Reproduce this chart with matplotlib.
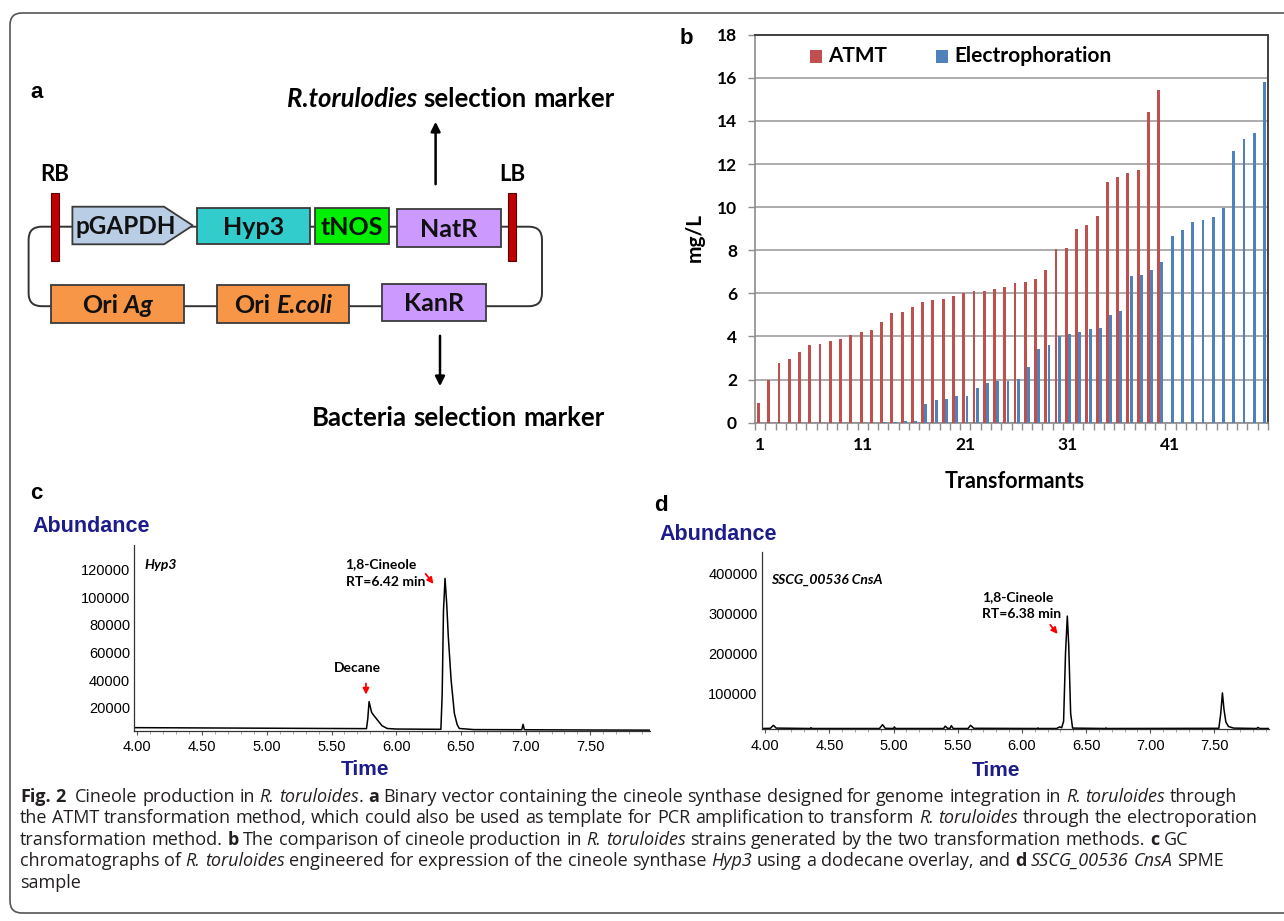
import numpy as np
import matplotlib.pyplot as plt
from matplotlib import font_manager
from matplotlib.patches import Rectangle, Polygon, FancyBboxPatch

W, H = 1284, 921
OUT = "out.png"

# ---- panel b: cineole titre per transformant (mg/L) ----
ATMT = [0.9, 2.0, 2.75, 2.95, 3.3, 3.6, 3.65, 3.8, 3.9, 4.05,
        4.2, 4.3, 4.65, 5.1, 5.15, 5.35, 5.6, 5.7, 5.75, 5.9,
        6.0, 6.1, 6.1, 6.2, 6.3, 6.5, 6.55, 6.65, 7.1, 8.05,
        8.1, 9.0, 9.15, 9.6, 11.15, 11.4, 11.6, 11.7, 14.4, 15.45]
ELEC = [0, 0, 0, 0, 0, 0, 0, 0, 0, 0,
        0, 0, 0.05, 0.05, 0.1, 0.1, 0.85, 1.05, 1.1, 1.25,
        1.25, 1.6, 1.85, 1.95, 1.95, 2.05, 2.6, 3.4, 3.6, 4.0,
        4.1, 4.2, 4.35, 4.4, 5.0, 5.2, 6.8, 6.85, 7.1, 7.45,
        8.65, 8.95, 9.3, 9.4, 9.55, 9.95, 12.6, 13.15, 13.45, 15.8]
B_XTICKS = [1, 11, 21, 31, 41]
B_YTICKS = [0, 2, 4, 6, 8, 10, 12, 14, 16, 18]
SERIES = ["ATMT", "Electrophoration"]

# ---- panel c: Hyp3 chromatogram (time in min, abundance) ----
C_TIME = [3.975, 4.5, 5.0, 5.5, 5.77, 5.78, 5.79, 5.81, 5.83, 5.86, 5.89, 5.93,
          6.0, 6.345, 6.355, 6.365, 6.377, 6.39, 6.402, 6.424, 6.449, 6.47, 6.487,
          6.6, 6.97, 6.98, 6.99, 7.5, 7.964]
C_ABUND = [5600, 5400, 5200, 5000, 4900, 12000, 24400, 16500, 14000, 10500, 7000, 5000,
           4600, 4400, 30000, 90000, 113500, 95000, 71800, 40000, 16000, 8000, 5000,
           4200, 4100, 8000, 4100, 3900, 3800]

# ---- panel d: SSCG_00536 CnsA chromatogram ----
D_TIME = [3.972, 4.04, 4.063, 4.085, 4.35, 4.356, 4.365, 4.89, 4.914, 4.935,
          5.0, 5.006, 5.015, 5.39, 5.403, 5.42, 5.44, 5.45, 5.465, 5.58, 5.60, 5.625,
          6.12, 6.125, 6.13, 6.27, 6.294, 6.31, 6.325, 6.34, 6.354, 6.365, 6.38, 6.395,
          6.65, 6.655, 6.66, 7.535, 7.55, 7.563, 7.575, 7.59, 7.61, 7.65,
          7.83, 7.84, 7.855, 7.926]
D_ABUND = [12000, 12500, 20000, 13000, 12000, 14000, 12000, 12000, 21500, 12500,
           12000, 16000, 12000, 12000, 18000, 12500, 12500, 19000, 12000, 12000, 20000, 12500,
           12000, 13500, 12000, 12000, 16000, 14000, 30000, 200000, 293000, 220000, 50000, 13000,
           12000, 13500, 12000, 12500, 50000, 101000, 60000, 28000, 17000, 13000,
           12000, 14500, 12000, 12000]
TIME_TICKS = [4.0, 4.5, 5.0, 5.5, 6.0, 6.5, 7.0, 7.5]
C_YTICKS = [20000, 40000, 60000, 80000, 100000, 120000]
D_YTICKS = [100000, 200000, 300000, 400000]

# ---- caption ----
CAPTION = [
    [("Fig. 2", "b"), ("  Cineole production in ", "r"), ("R. toruloides", "i"), (". ", "r"), ("a", "b"),
     (" Binary vector containing the cineole synthase designed for genome integration in ", "r"),
     ("R. toruloides", "i"), (" through", "r")],
    [("the ATMT transformation method, which could also be used as template for PCR amplification to transform ", "r"),
     ("R. toruloides", "i"), (" through the electroporation", "r")],
    [("transformation method. ", "r"), ("b", "b"), (" The comparison of cineole production in ", "r"),
     ("R. toruloides", "i"), (" strains generated by the two transformation methods. ", "r"), ("c", "b"), (" GC", "r")],
    [("chromatographs of ", "r"), ("R. toruloides", "i"), (" engineered for expression of the cineole synthase ", "r"),
     ("Hyp3", "i"), (" using a dodecane overlay, and ", "r"), ("d", "b"), (" ", "r"),
     ("SSCG_00536 CnsA", "i"), (" SPME", "r")],
    [("sample", "r")],
]

installed = {f.name for f in font_manager.fontManager.ttflist}


def pick(*names):
    for n in names:
        if n in installed:
            return n
    return "DejaVu Sans"


ARIAL = pick("Liberation Sans", "Arial")
LABEL = pick("Lato", "Noto Sans", "Liberation Sans")
CAPF = pick("Open Sans", "Noto Sans", "Liberation Sans")
NAVY = "#1C1C8A"

fig = plt.figure(figsize=(W / 100, H / 100), dpi=100)
renderer = fig.canvas.get_renderer()

ax0 = fig.add_axes([0, 0, 1, 1])
ax0.set_xlim(0, W)
ax0.set_ylim(H, 0)
ax0.axis("off")
ax0.set_zorder(5)


def px_axes(left, top, right, bottom):
    ax = fig.add_axes([left / W, 1 - bottom / H, (right - left) / W, (bottom - top) / H])
    ax.set_facecolor("none")
    return ax


STYLES = {"r": ("normal", "normal"), "b": ("bold", "normal"),
          "i": ("normal", "italic"), "bi": ("bold", "italic")}


def text_width(s, size, family, weight, style):
    t = ax0.text(0, 0, s, fontsize=size, family=family, fontweight=weight, fontstyle=style)
    w = t.get_window_extent(renderer).width
    t.remove()
    return w


def split_words(segs):
    # a double space becomes an empty word, i.e. a wider gap
    words = [[]]
    for text, st in segs:
        for i, p in enumerate(text.split(" ")):
            if i > 0:
                words.append([])
            if p:
                words[-1].append((p, st))
    if words and not words[0]:
        words = words[1:]
    return words


def space(size, family):
    return text_width("a a", size, family, "normal", "normal") - text_width("aa", size, family, "normal", "normal")


def line_width(segs, size, family, bold_base=False):
    words = split_words(segs)
    total = 0
    for w in words:
        for p, st in w:
            wt, sl = STYLES[st]
            total += text_width(p, size, family, "bold" if bold_base else wt, sl)
    return total + space(size, family) * (len(words) - 1)


def draw_words(x, y, segs, size, family, ha="left", color="black", bold_base=False):
    # y is the visual middle of capital letters; text sits on a common baseline
    base = y + 0.36 * size * 100 / 72
    words = split_words(segs)
    sp = space(size, family)
    start = x
    if ha == "center":
        start = x - line_width(segs, size, family, bold_base) / 2
    for w in words:
        for p, st in w:
            wt, sl = STYLES[st]
            t = ax0.text(start, base, p, fontsize=size, family=family, fontweight="bold" if bold_base else wt,
                         fontstyle=sl, color=color, va="baseline", ha="left")
            start += t.get_window_extent(renderer).width
        start += sp


# outer frame
ax0.add_patch(FancyBboxPatch((10, 13), W + 20, 900, boxstyle="round,pad=0,rounding_size=12",
                             fc="none", ec="#555555", lw=1.2))

# ---------------- panel a ----------------
ax0.text(37, 92, "a", fontsize=16, fontweight="bold", family=ARIAL, ha="center", va="center")
ax0.add_patch(FancyBboxPatch((28.6, 226.7), 513.4, 79.5, boxstyle="round,pad=0,rounding_size=13",
                             fc="none", ec="#333333", lw=1.4, zorder=1))
edge = "#3a3a3a"
ax0.add_patch(Polygon([(72.4, 206.7), (164, 206.7), (192.8, 225.5), (164, 244.3), (72.4, 244.3)],
                      closed=True, fc="#B9CDE5", ec=edge, lw=1.3, zorder=2))
boxes = [
    (196.5, 208.3, 310, 244.3, "#33CCCC", [("Hyp3", "r")]),
    (315, 208.3, 388.5, 244.3, "#00F000", [("tNOS", "r")]),
    (397, 209, 501, 246.7, "#CC99FF", [("NatR", "r")]),
    (51.3, 285, 184, 322.7, "#F79646", [("Ori ", "r"), ("Ag", "i")]),
    (216.7, 285, 349.3, 322.7, "#F79646", [("Ori ", "r"), ("E.coli", "i")]),
    (382, 283.7, 486, 320.7, "#CC99FF", [("KanR", "r")]),
]
for x0, y0, x1, y1, col, lab in boxes:
    ax0.add_patch(Rectangle((x0, y0), x1 - x0, y1 - y0, fc=col, ec=edge, lw=1.3, zorder=2))
    draw_words((x0 + x1) / 2, (y0 + y1) / 2, lab, 18, LABEL, ha="center", bold_base=True, color="#111111")
draw_words(126, 225.5, [("pGAPDH", "r")], 17.5, LABEL, ha="center", bold_base=True, color="#111111")
for bx in (55, 512):
    ax0.add_patch(Rectangle((bx - 4, 192.7), 8, 68, fc="#C00000", ec="#5a0000", lw=0.8, zorder=3))
draw_words(55, 173, [("RB", "r")], 16, LABEL, ha="center", bold_base=True)
draw_words(512, 173, [("LB", "r")], 16, LABEL, ha="center", bold_base=True)
ax0.annotate("", xy=(435.6, 119), xytext=(435.6, 187),
             arrowprops=dict(arrowstyle="-|>", color="black", lw=1.8, mutation_scale=14))
ax0.annotate("", xy=(440, 389), xytext=(440, 333),
             arrowprops=dict(arrowstyle="-|>", color="black", lw=1.8, mutation_scale=14))
draw_words(451, 98, [("R.torulodies", "i"), (" selection marker", "r")], 18.5, LABEL, ha="center", bold_base=True)
draw_words(458, 417, [("Bacteria selection marker", "r")], 18.5, LABEL, ha="center", bold_base=True)

# ---------------- panel b ----------------
ax0.text(686, 38, "b", fontsize=16, fontweight="bold", family=ARIAL, ha="center", va="center")
axb = px_axes(755, 34.7, 1268, 422.7)
xa = np.arange(1, len(ATMT) + 1)
xe = np.arange(1, len(ELEC) + 1)
axb.bar(xa - 0.16, ATMT, width=0.28, color="#C0504D", zorder=3)
axb.bar(xe + 0.16, ELEC, width=0.28, color="#4F81BD", zorder=3)
axb.set_xlim(0.5, len(ELEC) + 0.5)
axb.set_ylim(B_YTICKS[0], B_YTICKS[-1])
axb.set_yticks(B_YTICKS)
axb.set_yticklabels([str(v) for v in B_YTICKS], fontsize=12.5, fontweight="bold", family=LABEL)
axb.set_xticks(B_XTICKS)
axb.set_xticklabels([str(v) for v in B_XTICKS], fontsize=12.5, fontweight="bold", family=LABEL)
axb.set_xticks(np.arange(0.5, len(ELEC) + 1, 1), minor=True)
axb.yaxis.grid(True, color="#A6A6A6", lw=1.3, zorder=0)
axb.set_axisbelow(True)
axb.tick_params(axis="x", which="major", length=0, pad=10)
axb.tick_params(axis="x", which="minor", length=5, color="#8c8c8c", width=1)
axb.tick_params(axis="y", length=5, color="#8c8c8c", width=1, pad=8)
for s in ("left", "bottom"):
    axb.spines[s].set_color("#8c8c8c")
    axb.spines[s].set_linewidth(1.2)
for s in ("top", "right"):
    axb.spines[s].set_color("#404040")
    axb.spines[s].set_linewidth(1.4)
ax0.text(695, 237, "mg/L", rotation=90, fontsize=15, fontweight="bold", family=LABEL, ha="center", va="center")
ax0.text(1015, 481, "Transformants", fontsize=15.5, fontweight="bold", family=LABEL, ha="center", va="center")
ax0.add_patch(Rectangle((810, 50), 12, 12.7, fc="#C0504D", ec="none"))
ax0.text(828.5, 56, SERIES[0], fontsize=15, fontweight="bold", family=LABEL, va="center")
ax0.add_patch(Rectangle((935.6, 50), 12, 12.7, fc="#4F81BD", ec="none"))
ax0.text(954.8, 56, SERIES[1], fontsize=15, fontweight="bold", family=LABEL, va="center")


# ---------------- panels c, d ----------------
def chromatogram(ax, t, a, xlim, ylim, yticks):
    ax.plot(t, a, color="black", lw=1.1)
    ax.set_xlim(*xlim)
    ax.set_ylim(*ylim)
    ax.set_xticks(TIME_TICKS)
    ax.set_xticklabels([f"{v:.2f}" for v in TIME_TICKS], fontsize=10.5, family=ARIAL)
    ax.set_xticks(np.arange(4.0, xlim[1], 0.1), minor=True)
    ax.set_yticks(yticks)
    ax.set_yticklabels([str(v) for v in yticks], fontsize=10.5, family=ARIAL)
    ax.tick_params(axis="x", which="major", length=3, color="#555555", pad=4)
    ax.tick_params(axis="x", which="minor", length=2, color="#999999")
    ax.tick_params(axis="y", length=0, pad=3)
    for s in ("top", "right"):
        ax.spines[s].set_visible(False)
    for s in ("left", "bottom"):
        ax.spines[s].set_color("#333333")
        ax.spines[s].set_linewidth(0.9)


red_arrow = dict(arrowstyle="-|>", color="red", lw=1.3, mutation_scale=9)

ax0.text(36, 493, "c", fontsize=16, fontweight="bold", family=ARIAL, ha="center", va="center")
ax0.text(91.4, 526, "Abundance", fontsize=15.5, fontweight="bold", family=ARIAL, color=NAVY,
         ha="center", va="center")
ax0.text(364.8, 769, "Time", fontsize=15, fontweight="bold", family=ARIAL, color=NAVY, ha="center", va="center")
axc = px_axes(134.2, 545, 650.4, 730.7)
chromatogram(axc, C_TIME, C_ABUND, (3.975, 7.964), (3400, 137600), C_YTICKS)
axc.text(4.053, 123100, "Hyp3", fontsize=10, fontweight="bold", fontstyle="italic", family=LABEL, va="center")
axc.text(5.608, 123800, "1,8-Cineole", fontsize=10, fontweight="bold", family=LABEL, va="center")
axc.text(5.608, 111000, "RT=6.42 min", fontsize=10, fontweight="bold", family=LABEL, va="center")
axc.annotate("", xy=(6.301, 107900), xytext=(6.214, 118300), arrowprops=red_arrow)
axc.text(5.702, 48500, "Decane", fontsize=10, fontweight="bold", family=LABEL, ha="center", va="center")
axc.annotate("", xy=(5.766, 27500), xytext=(5.766, 39500), arrowprops=red_arrow)

ax0.text(661, 505, "d", fontsize=16, fontweight="bold", family=ARIAL, ha="center", va="center")
ax0.text(718, 534.3, "Abundance", fontsize=15.5, fontweight="bold", family=ARIAL, color=NAVY,
         ha="center", va="center")
ax0.text(996, 770, "Time", fontsize=15, fontweight="bold", family=ARIAL, color=NAVY, ha="center", va="center")
axd = px_axes(761.7, 551.7, 1269, 729)
chromatogram(axd, D_TIME, D_ABUND, (3.972, 7.926), (10750, 454000), D_YTICKS)
axd.text(4.048, 383000, "SSCG_00536 CnsA", fontsize=10, fontweight="bold", fontstyle="italic",
         family=LABEL, va="center")
axd.text(5.687, 341500, "1,8-Cineole", fontsize=10, fontweight="bold", family=LABEL, va="center")
axd.text(5.687, 298000, "RT=6.38 min", fontsize=10, fontweight="bold", family=LABEL, va="center")
axd.annotate("", xy=(6.292, 243000), xytext=(6.207, 276500), arrowprops=red_arrow)

# ---------------- caption ----------------
cap_size = 12.0
widest = line_width(CAPTION[1], cap_size, CAPF)
cap_size = min(13.0, cap_size * 1255 / widest)
for i, segs in enumerate(CAPTION):
    draw_words(20, 795 + 21.5 * i, segs, cap_size, CAPF, color="#231F20")

fig.savefig(OUT, dpi=100)
